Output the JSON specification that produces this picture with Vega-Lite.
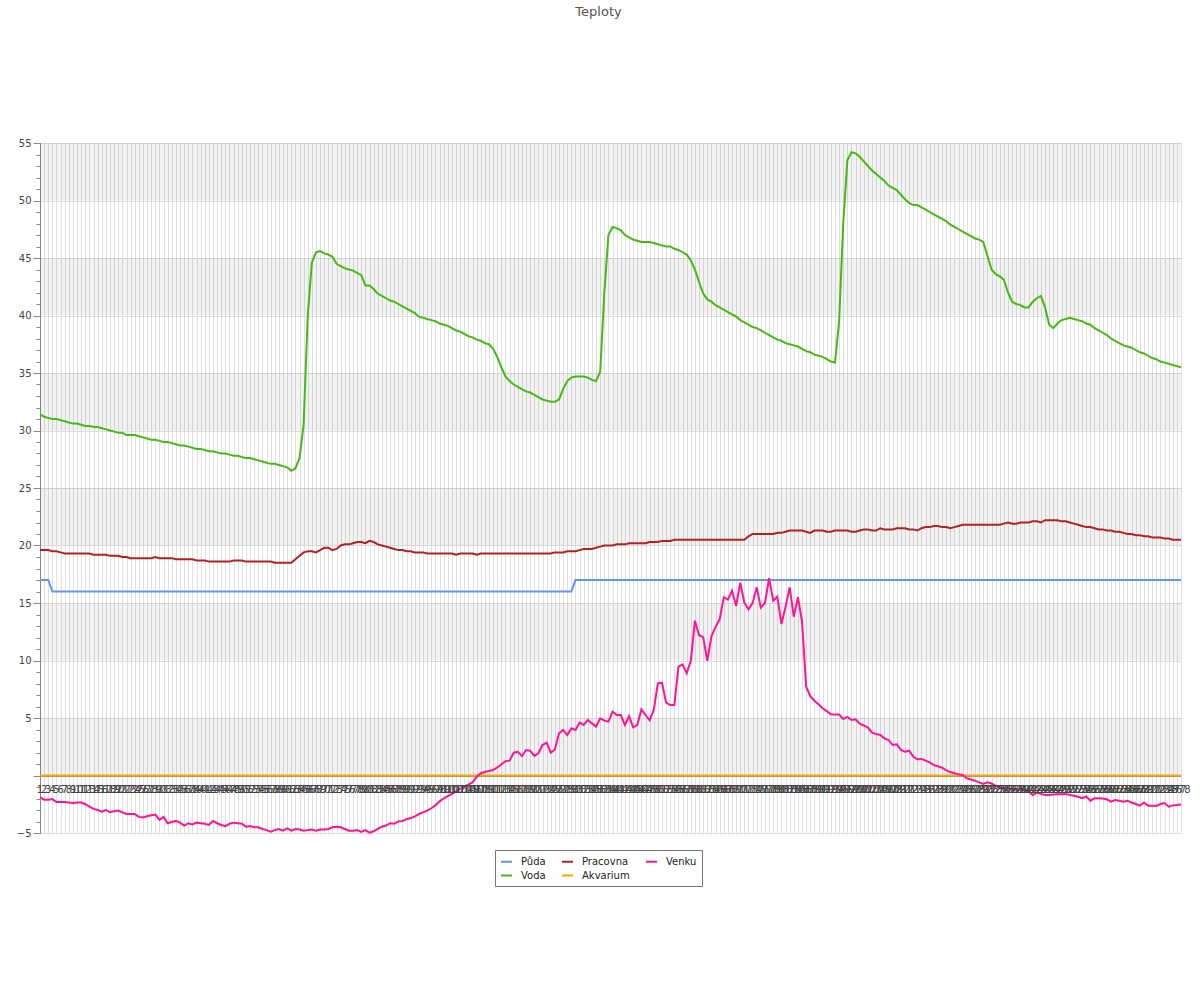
{
"$schema":"https://vega.github.io/schema/vega-lite/v6.json",
"width":1141,"height":690,
"autosize":{"type":"none"},
"padding":{"left":40,"top":143,"right":19,"bottom":167},
"title":{"text":"Teploty","anchor":"middle","frame":"group","dx":-12,"offset":119,"fontSize":13,"fontWeight":"normal","color":"#555555"},
"config":{"font":"DejaVu Sans","view":{"stroke":null}},
"datasets":{
"bands":[{"lo":0,"hi":5},{"lo":10,"hi":15},{"lo":20,"hi":25},{"lo":30,"hi":35},{"lo":40,"hi":45},{"lo":50,"hi":55}],
"zero":[{"z":0}],
"temps":[
{"i":1,"Půda":17,"Voda":31.4,"Pracovna":19.6,"Akvarium":0,"Venku":-1.9},
{"i":2,"Půda":17,"Voda":31.2,"Pracovna":19.6,"Akvarium":0,"Venku":-2.1},
{"i":3,"Půda":17,"Voda":31.1,"Pracovna":19.6,"Akvarium":0,"Venku":-2.1},
{"i":4,"Půda":16,"Voda":31.0,"Pracovna":19.5,"Akvarium":0,"Venku":-2.05},
{"i":5,"Půda":16,"Voda":31.0,"Pracovna":19.5,"Akvarium":0,"Venku":-2.3},
{"i":6,"Půda":16,"Voda":30.9,"Pracovna":19.4,"Akvarium":0,"Venku":-2.3},
{"i":7,"Půda":16,"Voda":30.8,"Pracovna":19.3,"Akvarium":0,"Venku":-2.3},
{"i":8,"Půda":16,"Voda":30.7,"Pracovna":19.3,"Akvarium":0,"Venku":-2.35},
{"i":9,"Půda":16,"Voda":30.6,"Pracovna":19.3,"Akvarium":0,"Venku":-2.4},
{"i":10,"Půda":16,"Voda":30.6,"Pracovna":19.3,"Akvarium":0,"Venku":-2.35},
{"i":11,"Půda":16,"Voda":30.5,"Pracovna":19.3,"Akvarium":0,"Venku":-2.35},
{"i":12,"Půda":16,"Voda":30.4,"Pracovna":19.3,"Akvarium":0,"Venku":-2.5},
{"i":13,"Půda":16,"Voda":30.4,"Pracovna":19.3,"Akvarium":0,"Venku":-2.7},
{"i":14,"Půda":16,"Voda":30.3,"Pracovna":19.2,"Akvarium":0,"Venku":-2.9},
{"i":15,"Půda":16,"Voda":30.3,"Pracovna":19.2,"Akvarium":0,"Venku":-3.0},
{"i":16,"Půda":16,"Voda":30.2,"Pracovna":19.2,"Akvarium":0,"Venku":-3.15},
{"i":17,"Půda":16,"Voda":30.1,"Pracovna":19.2,"Akvarium":0,"Venku":-3.0},
{"i":18,"Půda":16,"Voda":30.0,"Pracovna":19.1,"Akvarium":0,"Venku":-3.2},
{"i":19,"Půda":16,"Voda":29.9,"Pracovna":19.1,"Akvarium":0,"Venku":-3.1},
{"i":20,"Půda":16,"Voda":29.8,"Pracovna":19.1,"Akvarium":0,"Venku":-3.05},
{"i":21,"Půda":16,"Voda":29.8,"Pracovna":19.0,"Akvarium":0,"Venku":-3.2},
{"i":22,"Půda":16,"Voda":29.6,"Pracovna":19.0,"Akvarium":0,"Venku":-3.35},
{"i":23,"Půda":16,"Voda":29.6,"Pracovna":18.9,"Akvarium":0,"Venku":-3.35},
{"i":24,"Půda":16,"Voda":29.6,"Pracovna":18.9,"Akvarium":0,"Venku":-3.35},
{"i":25,"Půda":16,"Voda":29.5,"Pracovna":18.9,"Akvarium":0,"Venku":-3.6},
{"i":26,"Půda":16,"Voda":29.4,"Pracovna":18.9,"Akvarium":0,"Venku":-3.65},
{"i":27,"Půda":16,"Voda":29.3,"Pracovna":18.9,"Akvarium":0,"Venku":-3.55},
{"i":28,"Půda":16,"Voda":29.2,"Pracovna":18.9,"Akvarium":0,"Venku":-3.45},
{"i":29,"Půda":16,"Voda":29.2,"Pracovna":19.0,"Akvarium":0,"Venku":-3.4},
{"i":30,"Půda":16,"Voda":29.1,"Pracovna":18.9,"Akvarium":0,"Venku":-3.85},
{"i":31,"Půda":16,"Voda":29.0,"Pracovna":18.9,"Akvarium":0,"Venku":-3.6},
{"i":32,"Půda":16,"Voda":29.0,"Pracovna":18.9,"Akvarium":0,"Venku":-4.15},
{"i":33,"Půda":16,"Voda":28.9,"Pracovna":18.9,"Akvarium":0,"Venku":-4.05},
{"i":34,"Půda":16,"Voda":28.8,"Pracovna":18.8,"Akvarium":0,"Venku":-3.95},
{"i":35,"Půda":16,"Voda":28.7,"Pracovna":18.8,"Akvarium":0,"Venku":-4.1},
{"i":36,"Půda":16,"Voda":28.7,"Pracovna":18.8,"Akvarium":0,"Venku":-4.35},
{"i":37,"Půda":16,"Voda":28.6,"Pracovna":18.8,"Akvarium":0,"Venku":-4.15},
{"i":38,"Půda":16,"Voda":28.5,"Pracovna":18.8,"Akvarium":0,"Venku":-4.25},
{"i":39,"Půda":16,"Voda":28.4,"Pracovna":18.7,"Akvarium":0,"Venku":-4.1},
{"i":40,"Půda":16,"Voda":28.4,"Pracovna":18.7,"Akvarium":0,"Venku":-4.15},
{"i":41,"Půda":16,"Voda":28.3,"Pracovna":18.7,"Akvarium":0,"Venku":-4.2},
{"i":42,"Půda":16,"Voda":28.2,"Pracovna":18.6,"Akvarium":0,"Venku":-4.3},
{"i":43,"Půda":16,"Voda":28.2,"Pracovna":18.6,"Akvarium":0,"Venku":-3.95},
{"i":44,"Půda":16,"Voda":28.1,"Pracovna":18.6,"Akvarium":0,"Venku":-4.15},
{"i":45,"Půda":16,"Voda":28.0,"Pracovna":18.6,"Akvarium":0,"Venku":-4.3},
{"i":46,"Půda":16,"Voda":28.0,"Pracovna":18.6,"Akvarium":0,"Venku":-4.4},
{"i":47,"Půda":16,"Voda":27.9,"Pracovna":18.6,"Akvarium":0,"Venku":-4.2},
{"i":48,"Půda":16,"Voda":27.8,"Pracovna":18.7,"Akvarium":0,"Venku":-4.1},
{"i":49,"Půda":16,"Voda":27.8,"Pracovna":18.7,"Akvarium":0,"Venku":-4.15},
{"i":50,"Půda":16,"Voda":27.7,"Pracovna":18.7,"Akvarium":0,"Venku":-4.2},
{"i":51,"Půda":16,"Voda":27.6,"Pracovna":18.6,"Akvarium":0,"Venku":-4.45},
{"i":52,"Půda":16,"Voda":27.6,"Pracovna":18.6,"Akvarium":0,"Venku":-4.4},
{"i":53,"Půda":16,"Voda":27.5,"Pracovna":18.6,"Akvarium":0,"Venku":-4.5},
{"i":54,"Půda":16,"Voda":27.4,"Pracovna":18.6,"Akvarium":0,"Venku":-4.5},
{"i":55,"Půda":16,"Voda":27.3,"Pracovna":18.6,"Akvarium":0,"Venku":-4.65},
{"i":56,"Půda":16,"Voda":27.2,"Pracovna":18.6,"Akvarium":0,"Venku":-4.75},
{"i":57,"Půda":16,"Voda":27.1,"Pracovna":18.6,"Akvarium":0,"Venku":-4.88},
{"i":58,"Půda":16,"Voda":27.1,"Pracovna":18.5,"Akvarium":0,"Venku":-4.75},
{"i":59,"Půda":16,"Voda":27.0,"Pracovna":18.5,"Akvarium":0,"Venku":-4.65},
{"i":60,"Půda":16,"Voda":26.9,"Pracovna":18.5,"Akvarium":0,"Venku":-4.8},
{"i":61,"Půda":16,"Voda":26.8,"Pracovna":18.5,"Akvarium":0,"Venku":-4.6},
{"i":62,"Půda":16,"Voda":26.5,"Pracovna":18.5,"Akvarium":0,"Venku":-4.8},
{"i":63,"Půda":16,"Voda":26.7,"Pracovna":18.8,"Akvarium":0,"Venku":-4.65},
{"i":64,"Půda":16,"Voda":27.6,"Pracovna":19.1,"Akvarium":0,"Venku":-4.7},
{"i":65,"Půda":16,"Voda":30.5,"Pracovna":19.4,"Akvarium":0,"Venku":-4.8},
{"i":66,"Půda":16,"Voda":40.0,"Pracovna":19.5,"Akvarium":0,"Venku":-4.75},
{"i":67,"Půda":16,"Voda":44.6,"Pracovna":19.5,"Akvarium":0,"Venku":-4.7},
{"i":68,"Půda":16,"Voda":45.5,"Pracovna":19.4,"Akvarium":0,"Venku":-4.8},
{"i":69,"Půda":16,"Voda":45.6,"Pracovna":19.6,"Akvarium":0,"Venku":-4.7},
{"i":70,"Půda":16,"Voda":45.4,"Pracovna":19.8,"Akvarium":0,"Venku":-4.7},
{"i":71,"Půda":16,"Voda":45.3,"Pracovna":19.8,"Akvarium":0,"Venku":-4.65},
{"i":72,"Půda":16,"Voda":45.1,"Pracovna":19.6,"Akvarium":0,"Venku":-4.5},
{"i":73,"Půda":16,"Voda":44.5,"Pracovna":19.7,"Akvarium":0,"Venku":-4.45},
{"i":74,"Půda":16,"Voda":44.3,"Pracovna":20.0,"Akvarium":0,"Venku":-4.5},
{"i":75,"Půda":16,"Voda":44.1,"Pracovna":20.1,"Akvarium":0,"Venku":-4.65},
{"i":76,"Půda":16,"Voda":44.0,"Pracovna":20.1,"Akvarium":0,"Venku":-4.8},
{"i":77,"Půda":16,"Voda":43.9,"Pracovna":20.2,"Akvarium":0,"Venku":-4.8},
{"i":78,"Půda":16,"Voda":43.7,"Pracovna":20.3,"Akvarium":0,"Venku":-4.75},
{"i":79,"Půda":16,"Voda":43.5,"Pracovna":20.3,"Akvarium":0,"Venku":-4.9},
{"i":80,"Půda":16,"Voda":42.6,"Pracovna":20.2,"Akvarium":0,"Venku":-4.75},
{"i":81,"Půda":16,"Voda":42.6,"Pracovna":20.4,"Akvarium":0,"Venku":-4.97},
{"i":82,"Půda":16,"Voda":42.3,"Pracovna":20.3,"Akvarium":0,"Venku":-4.85},
{"i":83,"Půda":16,"Voda":41.9,"Pracovna":20.1,"Akvarium":0,"Venku":-4.65},
{"i":84,"Půda":16,"Voda":41.7,"Pracovna":20.0,"Akvarium":0,"Venku":-4.45},
{"i":85,"Půda":16,"Voda":41.5,"Pracovna":19.9,"Akvarium":0,"Venku":-4.35},
{"i":86,"Půda":16,"Voda":41.3,"Pracovna":19.8,"Akvarium":0,"Venku":-4.15},
{"i":87,"Půda":16,"Voda":41.2,"Pracovna":19.7,"Akvarium":0,"Venku":-4.2},
{"i":88,"Půda":16,"Voda":41.0,"Pracovna":19.6,"Akvarium":0,"Venku":-4.0},
{"i":89,"Půda":16,"Voda":40.8,"Pracovna":19.6,"Akvarium":0,"Venku":-3.95},
{"i":90,"Půda":16,"Voda":40.6,"Pracovna":19.5,"Akvarium":0,"Venku":-3.8},
{"i":91,"Půda":16,"Voda":40.4,"Pracovna":19.5,"Akvarium":0,"Venku":-3.7},
{"i":92,"Půda":16,"Voda":40.2,"Pracovna":19.4,"Akvarium":0,"Venku":-3.55},
{"i":93,"Půda":16,"Voda":39.9,"Pracovna":19.4,"Akvarium":0,"Venku":-3.35},
{"i":94,"Půda":16,"Voda":39.8,"Pracovna":19.4,"Akvarium":0,"Venku":-3.2},
{"i":95,"Půda":16,"Voda":39.7,"Pracovna":19.3,"Akvarium":0,"Venku":-3.05},
{"i":96,"Půda":16,"Voda":39.6,"Pracovna":19.3,"Akvarium":0,"Venku":-2.85},
{"i":97,"Půda":16,"Voda":39.5,"Pracovna":19.3,"Akvarium":0,"Venku":-2.6},
{"i":98,"Půda":16,"Voda":39.3,"Pracovna":19.3,"Akvarium":0,"Venku":-2.25},
{"i":99,"Půda":16,"Voda":39.2,"Pracovna":19.3,"Akvarium":0,"Venku":-2.0},
{"i":100,"Půda":16,"Voda":39.1,"Pracovna":19.3,"Akvarium":0,"Venku":-1.8},
{"i":101,"Půda":16,"Voda":38.9,"Pracovna":19.3,"Akvarium":0,"Venku":-1.6},
{"i":102,"Půda":16,"Voda":38.7,"Pracovna":19.2,"Akvarium":0,"Venku":-1.4},
{"i":103,"Půda":16,"Voda":38.6,"Pracovna":19.3,"Akvarium":0,"Venku":-1.15},
{"i":104,"Půda":16,"Voda":38.4,"Pracovna":19.3,"Akvarium":0,"Venku":-0.95},
{"i":105,"Půda":16,"Voda":38.2,"Pracovna":19.3,"Akvarium":0,"Venku":-0.8},
{"i":106,"Půda":16,"Voda":38.1,"Pracovna":19.3,"Akvarium":0,"Venku":-0.6},
{"i":107,"Půda":16,"Voda":37.9,"Pracovna":19.2,"Akvarium":0,"Venku":-0.1},
{"i":108,"Půda":16,"Voda":37.8,"Pracovna":19.3,"Akvarium":0,"Venku":0.2},
{"i":109,"Půda":16,"Voda":37.6,"Pracovna":19.3,"Akvarium":0,"Venku":0.3},
{"i":110,"Půda":16,"Voda":37.5,"Pracovna":19.3,"Akvarium":0,"Venku":0.4},
{"i":111,"Půda":16,"Voda":37.1,"Pracovna":19.3,"Akvarium":0,"Venku":0.48},
{"i":112,"Půda":16,"Voda":36.4,"Pracovna":19.3,"Akvarium":0,"Venku":0.7},
{"i":113,"Půda":16,"Voda":35.5,"Pracovna":19.3,"Akvarium":0,"Venku":0.95},
{"i":114,"Půda":16,"Voda":34.7,"Pracovna":19.3,"Akvarium":0,"Venku":1.25},
{"i":115,"Půda":16,"Voda":34.3,"Pracovna":19.3,"Akvarium":0,"Venku":1.29},
{"i":116,"Půda":16,"Voda":34.0,"Pracovna":19.3,"Akvarium":0,"Venku":1.98},
{"i":117,"Půda":16,"Voda":33.8,"Pracovna":19.3,"Akvarium":0,"Venku":2.06},
{"i":118,"Půda":16,"Voda":33.6,"Pracovna":19.3,"Akvarium":0,"Venku":1.7},
{"i":119,"Půda":16,"Voda":33.4,"Pracovna":19.3,"Akvarium":0,"Venku":2.22},
{"i":120,"Půda":16,"Voda":33.3,"Pracovna":19.3,"Akvarium":0,"Venku":2.16},
{"i":121,"Půda":16,"Voda":33.1,"Pracovna":19.3,"Akvarium":0,"Venku":1.7},
{"i":122,"Půda":16,"Voda":32.9,"Pracovna":19.3,"Akvarium":0,"Venku":1.93},
{"i":123,"Půda":16,"Voda":32.7,"Pracovna":19.3,"Akvarium":0,"Venku":2.65},
{"i":124,"Půda":16,"Voda":32.6,"Pracovna":19.3,"Akvarium":0,"Venku":2.85},
{"i":125,"Půda":16,"Voda":32.5,"Pracovna":19.3,"Akvarium":0,"Venku":1.98},
{"i":126,"Půda":16,"Voda":32.5,"Pracovna":19.4,"Akvarium":0,"Venku":2.26},
{"i":127,"Půda":16,"Voda":32.7,"Pracovna":19.4,"Akvarium":0,"Venku":3.67},
{"i":128,"Půda":16,"Voda":33.6,"Pracovna":19.4,"Akvarium":0,"Venku":3.96},
{"i":129,"Půda":16,"Voda":34.3,"Pracovna":19.5,"Akvarium":0,"Venku":3.52},
{"i":130,"Půda":16,"Voda":34.6,"Pracovna":19.5,"Akvarium":0,"Venku":4.1},
{"i":131,"Půda":17,"Voda":34.7,"Pracovna":19.5,"Akvarium":0,"Venku":3.96},
{"i":132,"Půda":17,"Voda":34.7,"Pracovna":19.6,"Akvarium":0,"Venku":4.6},
{"i":133,"Půda":17,"Voda":34.7,"Pracovna":19.7,"Akvarium":0,"Venku":4.4},
{"i":134,"Půda":17,"Voda":34.6,"Pracovna":19.7,"Akvarium":0,"Venku":4.83},
{"i":135,"Půda":17,"Voda":34.4,"Pracovna":19.7,"Akvarium":0,"Venku":4.53},
{"i":136,"Půda":17,"Voda":34.3,"Pracovna":19.8,"Akvarium":0,"Venku":4.25},
{"i":137,"Půda":17,"Voda":35.1,"Pracovna":19.9,"Akvarium":0,"Venku":4.97},
{"i":138,"Půda":17,"Voda":42.0,"Pracovna":20.0,"Akvarium":0,"Venku":4.77},
{"i":139,"Půda":17,"Voda":47.0,"Pracovna":20.0,"Akvarium":0,"Venku":4.68},
{"i":140,"Půda":17,"Voda":47.7,"Pracovna":20.0,"Akvarium":0,"Venku":5.55},
{"i":141,"Půda":17,"Voda":47.6,"Pracovna":20.1,"Akvarium":0,"Venku":5.26},
{"i":142,"Půda":17,"Voda":47.4,"Pracovna":20.1,"Akvarium":0,"Venku":5.26},
{"i":143,"Půda":17,"Voda":47.0,"Pracovna":20.1,"Akvarium":0,"Venku":4.39},
{"i":144,"Půda":17,"Voda":46.8,"Pracovna":20.2,"Akvarium":0,"Venku":5.17},
{"i":145,"Půda":17,"Voda":46.6,"Pracovna":20.2,"Akvarium":0,"Venku":4.19},
{"i":146,"Půda":17,"Voda":46.5,"Pracovna":20.2,"Akvarium":0,"Venku":4.39},
{"i":147,"Půda":17,"Voda":46.4,"Pracovna":20.2,"Akvarium":0,"Venku":5.75},
{"i":148,"Půda":17,"Voda":46.4,"Pracovna":20.2,"Akvarium":0,"Venku":5.26},
{"i":149,"Půda":17,"Voda":46.4,"Pracovna":20.3,"Akvarium":0,"Venku":4.8},
{"i":150,"Půda":17,"Voda":46.3,"Pracovna":20.3,"Akvarium":0,"Venku":5.7},
{"i":151,"Půda":17,"Voda":46.2,"Pracovna":20.3,"Akvarium":0,"Venku":8.02},
{"i":152,"Půda":17,"Voda":46.1,"Pracovna":20.4,"Akvarium":0,"Venku":8.07},
{"i":153,"Půda":17,"Voda":46.0,"Pracovna":20.4,"Akvarium":0,"Venku":6.33},
{"i":154,"Půda":17,"Voda":46.0,"Pracovna":20.4,"Akvarium":0,"Venku":6.13},
{"i":155,"Půda":17,"Voda":45.8,"Pracovna":20.5,"Akvarium":0,"Venku":6.13},
{"i":156,"Půda":17,"Voda":45.7,"Pracovna":20.5,"Akvarium":0,"Venku":9.46},
{"i":157,"Půda":17,"Voda":45.5,"Pracovna":20.5,"Akvarium":0,"Venku":9.66},
{"i":158,"Půda":17,"Voda":45.3,"Pracovna":20.5,"Akvarium":0,"Venku":8.88},
{"i":159,"Půda":17,"Voda":44.8,"Pracovna":20.5,"Akvarium":0,"Venku":9.98},
{"i":160,"Půda":17,"Voda":44.0,"Pracovna":20.5,"Akvarium":0,"Venku":13.46},
{"i":161,"Půda":17,"Voda":42.9,"Pracovna":20.5,"Akvarium":0,"Venku":12.2},
{"i":162,"Půda":17,"Voda":41.9,"Pracovna":20.5,"Akvarium":0,"Venku":12.03},
{"i":163,"Půda":17,"Voda":41.4,"Pracovna":20.5,"Akvarium":0,"Venku":9.98},
{"i":164,"Půda":17,"Voda":41.2,"Pracovna":20.5,"Akvarium":0,"Venku":12.1},
{"i":165,"Půda":17,"Voda":40.9,"Pracovna":20.5,"Akvarium":0,"Venku":12.9},
{"i":166,"Půda":17,"Voda":40.7,"Pracovna":20.5,"Akvarium":0,"Venku":13.58},
{"i":167,"Půda":17,"Voda":40.5,"Pracovna":20.5,"Akvarium":0,"Venku":15.5},
{"i":168,"Půda":17,"Voda":40.3,"Pracovna":20.5,"Akvarium":0,"Venku":15.3},
{"i":169,"Půda":17,"Voda":40.1,"Pracovna":20.5,"Akvarium":0,"Venku":16.07},
{"i":170,"Půda":17,"Voda":39.9,"Pracovna":20.5,"Akvarium":0,"Venku":14.74},
{"i":171,"Půda":17,"Voda":39.6,"Pracovna":20.5,"Akvarium":0,"Venku":16.77},
{"i":172,"Půda":17,"Voda":39.4,"Pracovna":20.5,"Akvarium":0,"Venku":15.03},
{"i":173,"Půda":17,"Voda":39.2,"Pracovna":20.8,"Akvarium":0,"Venku":14.45},
{"i":174,"Půda":17,"Voda":39.0,"Pracovna":21.0,"Akvarium":0,"Venku":15.0},
{"i":175,"Půda":17,"Voda":38.9,"Pracovna":21.0,"Akvarium":0,"Venku":16.36},
{"i":176,"Půda":17,"Voda":38.7,"Pracovna":21.0,"Akvarium":0,"Venku":14.6},
{"i":177,"Půda":17,"Voda":38.5,"Pracovna":21.0,"Akvarium":0,"Venku":15.0},
{"i":178,"Půda":17,"Voda":38.3,"Pracovna":21.0,"Akvarium":0,"Venku":17.15},
{"i":179,"Půda":17,"Voda":38.1,"Pracovna":21.0,"Akvarium":0,"Venku":15.2},
{"i":180,"Půda":17,"Voda":37.9,"Pracovna":21.1,"Akvarium":0,"Venku":15.55},
{"i":181,"Půda":17,"Voda":37.8,"Pracovna":21.1,"Akvarium":0,"Venku":13.17},
{"i":182,"Půda":17,"Voda":37.6,"Pracovna":21.2,"Akvarium":0,"Venku":14.68},
{"i":183,"Půda":17,"Voda":37.5,"Pracovna":21.3,"Akvarium":0,"Venku":16.36},
{"i":184,"Půda":17,"Voda":37.4,"Pracovna":21.3,"Akvarium":0,"Venku":13.81},
{"i":185,"Půda":17,"Voda":37.3,"Pracovna":21.3,"Akvarium":0,"Venku":15.5},
{"i":186,"Půda":17,"Voda":37.1,"Pracovna":21.3,"Akvarium":0,"Venku":13.38},
{"i":187,"Půda":17,"Voda":36.9,"Pracovna":21.2,"Akvarium":0,"Venku":7.72},
{"i":188,"Půda":17,"Voda":36.8,"Pracovna":21.1,"Akvarium":0,"Venku":6.9},
{"i":189,"Půda":17,"Voda":36.6,"Pracovna":21.3,"Akvarium":0,"Venku":6.5},
{"i":190,"Půda":17,"Voda":36.5,"Pracovna":21.3,"Akvarium":0,"Venku":6.2},
{"i":191,"Půda":17,"Voda":36.4,"Pracovna":21.3,"Akvarium":0,"Venku":5.85},
{"i":192,"Půda":17,"Voda":36.2,"Pracovna":21.2,"Akvarium":0,"Venku":5.6},
{"i":193,"Půda":17,"Voda":36.0,"Pracovna":21.2,"Akvarium":0,"Venku":5.32},
{"i":194,"Půda":17,"Voda":35.9,"Pracovna":21.3,"Akvarium":0,"Venku":5.3},
{"i":195,"Půda":17,"Voda":39.5,"Pracovna":21.3,"Akvarium":0,"Venku":5.3},
{"i":196,"Půda":17,"Voda":48.0,"Pracovna":21.3,"Akvarium":0,"Venku":4.91},
{"i":197,"Půda":17,"Voda":53.5,"Pracovna":21.3,"Akvarium":0,"Venku":5.1},
{"i":198,"Půda":17,"Voda":54.2,"Pracovna":21.2,"Akvarium":0,"Venku":4.83},
{"i":199,"Půda":17,"Voda":54.1,"Pracovna":21.2,"Akvarium":0,"Venku":4.88},
{"i":200,"Půda":17,"Voda":53.8,"Pracovna":21.3,"Akvarium":0,"Venku":4.5},
{"i":201,"Půda":17,"Voda":53.4,"Pracovna":21.4,"Akvarium":0,"Venku":4.35},
{"i":202,"Půda":17,"Voda":53.0,"Pracovna":21.4,"Akvarium":0,"Venku":4.16},
{"i":203,"Půda":17,"Voda":52.6,"Pracovna":21.3,"Akvarium":0,"Venku":3.72},
{"i":204,"Půda":17,"Voda":52.3,"Pracovna":21.3,"Akvarium":0,"Venku":3.6},
{"i":205,"Půda":17,"Voda":52.0,"Pracovna":21.5,"Akvarium":0,"Venku":3.52},
{"i":206,"Půda":17,"Voda":51.7,"Pracovna":21.4,"Akvarium":0,"Venku":3.23},
{"i":207,"Půda":17,"Voda":51.3,"Pracovna":21.4,"Akvarium":0,"Venku":3.09},
{"i":208,"Půda":17,"Voda":51.1,"Pracovna":21.4,"Akvarium":0,"Venku":2.65},
{"i":209,"Půda":17,"Voda":50.9,"Pracovna":21.5,"Akvarium":0,"Venku":2.71},
{"i":210,"Půda":17,"Voda":50.5,"Pracovna":21.5,"Akvarium":0,"Venku":2.22},
{"i":211,"Půda":17,"Voda":50.1,"Pracovna":21.5,"Akvarium":0,"Venku":2.07},
{"i":212,"Půda":17,"Voda":49.8,"Pracovna":21.4,"Akvarium":0,"Venku":2.16},
{"i":213,"Půda":17,"Voda":49.6,"Pracovna":21.4,"Akvarium":0,"Venku":1.64},
{"i":214,"Půda":17,"Voda":49.6,"Pracovna":21.3,"Akvarium":0,"Venku":1.41},
{"i":215,"Půda":17,"Voda":49.4,"Pracovna":21.5,"Akvarium":0,"Venku":1.44},
{"i":216,"Půda":17,"Voda":49.2,"Pracovna":21.6,"Akvarium":0,"Venku":1.3},
{"i":217,"Půda":17,"Voda":49.0,"Pracovna":21.6,"Akvarium":0,"Venku":1.14},
{"i":218,"Půda":17,"Voda":48.8,"Pracovna":21.7,"Akvarium":0,"Venku":0.9},
{"i":219,"Půda":17,"Voda":48.6,"Pracovna":21.7,"Akvarium":0,"Venku":0.8},
{"i":220,"Půda":17,"Voda":48.4,"Pracovna":21.6,"Akvarium":0,"Venku":0.68},
{"i":221,"Půda":17,"Voda":48.2,"Pracovna":21.6,"Akvarium":0,"Venku":0.45},
{"i":222,"Půda":17,"Voda":47.9,"Pracovna":21.5,"Akvarium":0,"Venku":0.3},
{"i":223,"Půda":17,"Voda":47.7,"Pracovna":21.6,"Akvarium":0,"Venku":0.19},
{"i":224,"Půda":17,"Voda":47.5,"Pracovna":21.7,"Akvarium":0,"Venku":0.1},
{"i":225,"Půda":17,"Voda":47.3,"Pracovna":21.8,"Akvarium":0,"Venku":0.04},
{"i":226,"Půda":17,"Voda":47.1,"Pracovna":21.8,"Akvarium":0,"Venku":-0.25},
{"i":227,"Půda":17,"Voda":46.9,"Pracovna":21.8,"Akvarium":0,"Venku":-0.35},
{"i":228,"Půda":17,"Voda":46.7,"Pracovna":21.8,"Akvarium":0,"Venku":-0.45},
{"i":229,"Půda":17,"Voda":46.6,"Pracovna":21.8,"Akvarium":0,"Venku":-0.6},
{"i":230,"Půda":17,"Voda":46.4,"Pracovna":21.8,"Akvarium":0,"Venku":-0.74},
{"i":231,"Půda":17,"Voda":45.2,"Pracovna":21.8,"Akvarium":0,"Venku":-0.6},
{"i":232,"Půda":17,"Voda":44.0,"Pracovna":21.8,"Akvarium":0,"Venku":-0.7},
{"i":233,"Půda":17,"Voda":43.6,"Pracovna":21.8,"Akvarium":0,"Venku":-0.9},
{"i":234,"Půda":17,"Voda":43.4,"Pracovna":21.8,"Akvarium":0,"Venku":-1.03},
{"i":235,"Půda":17,"Voda":43.1,"Pracovna":21.9,"Akvarium":0,"Venku":-1.08},
{"i":236,"Půda":17,"Voda":42.0,"Pracovna":22.0,"Akvarium":0,"Venku":-1.12},
{"i":237,"Půda":17,"Voda":41.2,"Pracovna":21.9,"Akvarium":0,"Venku":-1.2},
{"i":238,"Půda":17,"Voda":41.0,"Pracovna":21.9,"Akvarium":0,"Venku":-1.22},
{"i":239,"Půda":17,"Voda":40.9,"Pracovna":22.0,"Akvarium":0,"Venku":-1.25},
{"i":240,"Půda":17,"Voda":40.7,"Pracovna":22.0,"Akvarium":0,"Venku":-1.3},
{"i":241,"Půda":17,"Voda":40.7,"Pracovna":22.0,"Akvarium":0,"Venku":-1.35},
{"i":242,"Půda":17,"Voda":41.2,"Pracovna":22.1,"Akvarium":0,"Venku":-1.7},
{"i":243,"Půda":17,"Voda":41.5,"Pracovna":22.1,"Akvarium":0,"Venku":-1.5},
{"i":244,"Půda":17,"Voda":41.7,"Pracovna":22.0,"Akvarium":0,"Venku":-1.6},
{"i":245,"Půda":17,"Voda":40.7,"Pracovna":22.2,"Akvarium":0,"Venku":-1.7},
{"i":246,"Půda":17,"Voda":39.2,"Pracovna":22.2,"Akvarium":0,"Venku":-1.7},
{"i":247,"Půda":17,"Voda":38.9,"Pracovna":22.2,"Akvarium":0,"Venku":-1.66},
{"i":248,"Půda":17,"Voda":39.3,"Pracovna":22.2,"Akvarium":0,"Venku":-1.64},
{"i":249,"Půda":17,"Voda":39.6,"Pracovna":22.1,"Akvarium":0,"Venku":-1.62},
{"i":250,"Půda":17,"Voda":39.7,"Pracovna":22.1,"Akvarium":0,"Venku":-1.6},
{"i":251,"Půda":17,"Voda":39.8,"Pracovna":22.0,"Akvarium":0,"Venku":-1.7},
{"i":252,"Půda":17,"Voda":39.7,"Pracovna":21.9,"Akvarium":0,"Venku":-1.76},
{"i":253,"Půda":17,"Voda":39.6,"Pracovna":21.8,"Akvarium":0,"Venku":-1.85},
{"i":254,"Půda":17,"Voda":39.5,"Pracovna":21.7,"Akvarium":0,"Venku":-1.98},
{"i":255,"Půda":17,"Voda":39.3,"Pracovna":21.6,"Akvarium":0,"Venku":-1.83},
{"i":256,"Půda":17,"Voda":39.2,"Pracovna":21.6,"Akvarium":0,"Venku":-2.19},
{"i":257,"Půda":17,"Voda":38.9,"Pracovna":21.5,"Akvarium":0,"Venku":-1.98},
{"i":258,"Půda":17,"Voda":38.7,"Pracovna":21.4,"Akvarium":0,"Venku":-1.98},
{"i":259,"Půda":17,"Voda":38.5,"Pracovna":21.4,"Akvarium":0,"Venku":-2.0},
{"i":260,"Půda":17,"Voda":38.3,"Pracovna":21.3,"Akvarium":0,"Venku":-2.07},
{"i":261,"Půda":17,"Voda":38.0,"Pracovna":21.3,"Akvarium":0,"Venku":-2.28},
{"i":262,"Půda":17,"Voda":37.8,"Pracovna":21.2,"Akvarium":0,"Venku":-2.13},
{"i":263,"Půda":17,"Voda":37.6,"Pracovna":21.2,"Akvarium":0,"Venku":-2.2},
{"i":264,"Půda":17,"Voda":37.4,"Pracovna":21.1,"Akvarium":0,"Venku":-2.28},
{"i":265,"Půda":17,"Voda":37.3,"Pracovna":21.0,"Akvarium":0,"Venku":-2.19},
{"i":266,"Půda":17,"Voda":37.2,"Pracovna":21.0,"Akvarium":0,"Venku":-2.35},
{"i":267,"Půda":17,"Voda":37.0,"Pracovna":20.9,"Akvarium":0,"Venku":-2.48},
{"i":268,"Půda":17,"Voda":36.8,"Pracovna":20.9,"Akvarium":0,"Venku":-2.62},
{"i":269,"Půda":17,"Voda":36.7,"Pracovna":20.8,"Akvarium":0,"Venku":-2.36},
{"i":270,"Půda":17,"Voda":36.5,"Pracovna":20.8,"Akvarium":0,"Venku":-2.62},
{"i":271,"Půda":17,"Voda":36.3,"Pracovna":20.7,"Akvarium":0,"Venku":-2.62},
{"i":272,"Půda":17,"Voda":36.2,"Pracovna":20.7,"Akvarium":0,"Venku":-2.65},
{"i":273,"Půda":17,"Voda":36.0,"Pracovna":20.7,"Akvarium":0,"Venku":-2.48},
{"i":274,"Půda":17,"Voda":35.9,"Pracovna":20.6,"Akvarium":0,"Venku":-2.4},
{"i":275,"Půda":17,"Voda":35.8,"Pracovna":20.6,"Akvarium":0,"Venku":-2.71},
{"i":276,"Půda":17,"Voda":35.7,"Pracovna":20.5,"Akvarium":0,"Venku":-2.6},
{"i":277,"Půda":17,"Voda":35.6,"Pracovna":20.5,"Akvarium":0,"Venku":-2.57},
{"i":278,"Půda":17,"Voda":35.5,"Pracovna":20.5,"Akvarium":0,"Venku":-2.52}
]},
"layer":[
{"data":{"name":"bands"},
 "mark":{"type":"rect","fill":"#000000","fillOpacity":0.05},
 "encoding":{
  "y":{"field":"lo","type":"quantitative","scale":{"domain":[-5,55],"nice":false,"zero":false},
   "axis":{"orient":"left","values":[-5,-4,-3,-2,-1,0,1,2,3,4,5,6,7,8,9,10,11,12,13,14,15,16,17,18,19,20,21,22,23,24,25,26,27,28,29,30,31,32,33,34,35,36,37,38,39,40,41,42,43,44,45,46,47,48,49,50,51,52,53,54,55],"labels":false,"grid":false,"domain":false,"tickSize":4,"tickColor":"#888888","title":null}},
  "y2":{"field":"hi"}}},
{"data":{"name":"zero"},
 "mark":{"type":"rule","color":"#888888","strokeWidth":1,"yOffset":1},
 "encoding":{"y":{"field":"z","type":"quantitative","axis":null}}},
{"data":{"name":"temps"},
 "transform":[{"fold":["Půda","Voda","Pracovna","Akvarium","Venku"],"as":["serie","t"]}],
 "mark":{"type":"line","strokeWidth":2},
 "encoding":{
  "x":{"field":"i","type":"ordinal","sort":null,"scale":{"type":"point","padding":0},
   "axis":{"grid":true,"gridColor":"#e0e0e0","labels":false,"ticks":false,"domain":false,"title":null}},
  "y":{"field":"t","type":"quantitative","scale":{"domain":[-5,55],"nice":false,"zero":false},
   "axis":{"orient":"left","values":[-5,0,5,10,15,20,25,30,35,40,45,50,55],"labelExpr":"datum.value == 0 ? '' : datum.label","grid":true,"gridColor":"#dddddd","domainColor":"#888888","tickColor":"#888888","tickSize":7,"labelColor":"#444444","labelFontSize":10,"labelPadding":2,"title":null}},
  "color":{"field":"serie","type":"nominal",
   "scale":{"domain":["Půda","Voda","Pracovna","Akvarium","Venku"],"range":["#6495ED","#48B814","#B22222","#FFA500","#FF1493"]},
   "legend":{"orient":"none","legendX":455,"legendY":707,"columns":3,"symbolType":"stroke","symbolStrokeWidth":2,"symbolSize":121,"labelFontSize":10,"labelColor":"#222222","strokeColor":"#777777","fillColor":"#ffffff","padding":5,"rowPadding":2,"columnPadding":12,"labelOffset":8,"title":null}}}},
{"data":{"name":"temps"},
 "mark":{"type":"text","fontSize":10,"color":"#444444","dy":14},
 "encoding":{
  "x":{"field":"i","type":"ordinal","sort":null,"scale":{"type":"point","padding":0},
   "axis":{"grid":true,"gridColor":"#e0e0e0","labels":false,"ticks":false,"domain":false,"title":null}},
  "y":{"datum":0,"type":"quantitative","axis":null},
  "text":{"field":"i","type":"nominal"}}}
],
"resolve":{"axis":{"y":"independent"}}
}
